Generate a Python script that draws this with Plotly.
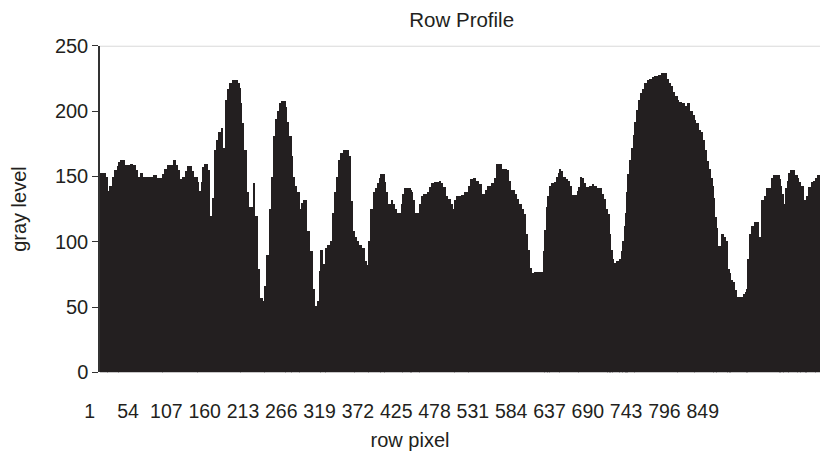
import numpy as np
import plotly.graph_objects as go

# Gray level along one image row, stored as runs: each run starts at a row
# pixel and keeps its gray level until the next run begins.
run_start = [
    1, 9, 12, 14, 18, 20, 24, 27, 29, 35, 43, 47, 51, 54, 56, 61, 75, 80, 88, 90,
    93, 102, 106, 109, 112, 115, 119, 122, 128, 131, 136, 138, 141, 142, 145, 150,
    153, 156, 159, 161, 164, 169, 171, 174, 177, 180, 183, 192, 195, 196, 198, 200,
    205, 207, 212, 216, 220, 223, 226, 229, 231, 235, 238, 241, 243, 246, 249, 251,
    258, 260, 263, 266, 268, 271, 274, 277, 279, 282, 287, 291, 295, 298, 301, 304,
    306, 310, 313, 315, 319, 322, 325, 327, 330, 333, 337, 345, 348, 351, 353, 356,
    359, 364, 367, 370, 373, 375, 378, 381, 384, 387, 389, 395, 397, 399,
    403, 407, 409, 412, 417, 420, 422, 431, 432, 434, 437, 443, 445, 448, 453, 456,
    459, 463, 470, 473, 476, 480, 483, 487, 489, 492, 494, 500, 505, 511, 513, 517,
    521, 525, 529, 534, 537, 542, 546, 549, 557, 564, 567, 570, 575, 578, 581, 585,
    587, 590, 593, 596, 599, 602,
    614, 616, 618, 620, 623, 625, 629, 632, 635, 636, 639, 642, 646, 648, 651, 654,
    661, 663, 665, 668, 671, 673, 677, 681, 685, 689, 695, 698, 701, 703, 706, 707,
    710, 712, 715, 720, 722, 724, 726, 728, 730, 731, 733, 736, 738, 741, 742, 745,
    748, 751, 754, 757, 760, 764, 767, 773, 777, 785, 788, 791, 794, 797, 800, 802,
    806, 810, 813, 817, 821, 824, 826, 829, 832, 835, 838, 840, 843, 846, 849, 850,
    852, 854, 856, 860, 864, 867, 869, 872, 873, 876, 879, 882, 890, 893, 896, 897,
    899, 901, 906, 912, 915, 920, 922, 929, 932, 941, 943, 945, 947, 949, 951, 954,
    955, 963, 966, 968, 970, 975, 977, 979, 981, 984, 987, 991, 993,
]
gray_level = [
    153, 150, 139, 143, 150, 155, 158, 161, 163, 159, 160, 159, 155, 150, 153, 150, 151, 149, 152, 156,
    159, 163, 159, 155, 148, 150, 154, 158, 154, 150, 146, 139, 146, 157, 160, 155,
    120, 134, 170, 178, 184, 187, 172, 209, 217, 222, 224, 222, 218, 206, 191, 170,
    138, 127, 145, 120, 79, 57, 55, 66, 90, 125, 150, 181, 194, 200, 206, 208,
    203, 192, 181, 166, 150, 143, 138, 125, 130, 132, 108, 93, 64, 51, 55, 78,
    94, 83, 95, 98, 101, 122, 138, 150, 163, 168, 170, 166, 131, 108, 104, 101,
    98, 95, 85, 82, 101, 125, 138, 141, 145, 149, 152, 146, 138, 129,
    132, 129, 125, 122, 129, 137, 141, 140, 138, 132, 122, 129, 135, 137, 138, 142,
    145, 146, 147, 145, 142, 135, 133, 129, 125, 132, 135, 136, 138, 143, 148, 149,
    147, 144, 137, 140, 143, 145, 149, 160, 156, 155, 147, 140, 137, 133, 129, 125,
    121, 106, 94, 80, 76, 77,
    93, 109, 127, 135, 143, 145, 146, 150, 153, 156, 154, 150, 148, 147, 143, 136,
    139, 142, 150, 149, 145, 142, 143, 144, 143, 141, 137, 133, 125, 121, 106, 94,
    87, 84, 85, 87, 93, 101, 112, 122, 138, 152, 163, 172, 182, 192, 201, 209,
    214, 217, 222, 224, 225, 226, 227, 228, 229, 225, 222, 219, 215, 212, 209, 207,
    206, 204, 206, 200, 197, 193, 191, 186, 184, 178, 170, 162, 156, 149, 143, 134,
    119, 111, 97, 106, 104, 101, 79, 76, 71, 69, 63, 58, 60, 62, 64, 87,
    106, 112, 115, 104, 132, 135, 141, 149, 151, 148, 143, 137, 129, 141, 147, 153,
    155, 151, 149, 146, 143, 132, 113, 135, 142, 146, 147, 149, 151,
]
last_row = 996

tick_rows = [1, 54, 107, 160, 213, 266, 319, 372, 425, 478, 531, 584, 637, 690, 743, 796, 849]
tick_text = [str(t) for t in tick_rows]
y_ticks = [0, 50, 100, 150, 200, 250]

INK = "#231F20"
FONT = "Liberation Sans, Arial, sans-serif"

starts = np.array(run_start)
widths = np.diff(np.append(starts, last_row + 1))

fig = go.Figure()
fig.add_trace(go.Bar(
    x=starts, y=gray_level, width=widths, offset=-0.5,
    marker=dict(color=INK, line=dict(width=0)),
    hoverinfo="x+y", showlegend=False,
))
# invisible point so the labelled row-pixel axis is laid out
fig.add_trace(go.Scatter(
    x=[tick_rows[0]], y=[0], xaxis="x2", yaxis="y", mode="markers",
    marker=dict(opacity=0), hoverinfo="skip", showlegend=False,
))

fig.update_layout(
    template="none",
    width=820, height=455,
    margin=dict(l=0, r=0, t=0, b=0, autoexpand=False),
    paper_bgcolor="white", plot_bgcolor="rgba(0,0,0,0)",
    font=dict(family=FONT, color=INK),
    title=dict(text="Row Profile", x=0.563, xanchor="center", y=0.956,
               yref="container", yanchor="middle", font=dict(size=20.5, color=INK)),
    xaxis=dict(domain=[100 / 820, 1], range=[0.5, last_row + 0.5], automargin=False,
               showticklabels=False, ticks="", showline=False, showgrid=False,
               zeroline=False, fixedrange=True),
    xaxis2=dict(domain=[0, 1], range=[-123.1, 1011.2], anchor="y", automargin=False,
                tickmode="array", tickvals=tick_rows, ticktext=tick_text,
                ticks="outside", ticklen=21, tickcolor="rgba(0,0,0,0)",
                tickfont=dict(size=19.5, color=INK),
                showline=False, showgrid=False, zeroline=False,
                title=dict(text="row pixel", font=dict(size=20, color=INK), standoff=12)),
    yaxis=dict(domain=[(455 - 372.3) / 455, (455 - 45.8) / 455], range=[0, 250],
               automargin=False,
               tickmode="array", tickvals=y_ticks,
               ticks="outside", ticklen=6, tickwidth=1.3, tickcolor="#333333",
               tickfont=dict(size=20, color=INK),
               showline=True, linecolor="#333333", linewidth=1.5,
               showgrid=False, zeroline=False,
               title=dict(text="gray level", font=dict(size=20, color=INK), standoff=23)),
    shapes=[dict(type="line", xref="x domain", yref="y", x0=0, x1=1, y0=250, y1=250,
                 line=dict(color="#C8C8C8", width=1.3), layer="below")],
    bargap=0,
)

fig.write_html("out.html")
